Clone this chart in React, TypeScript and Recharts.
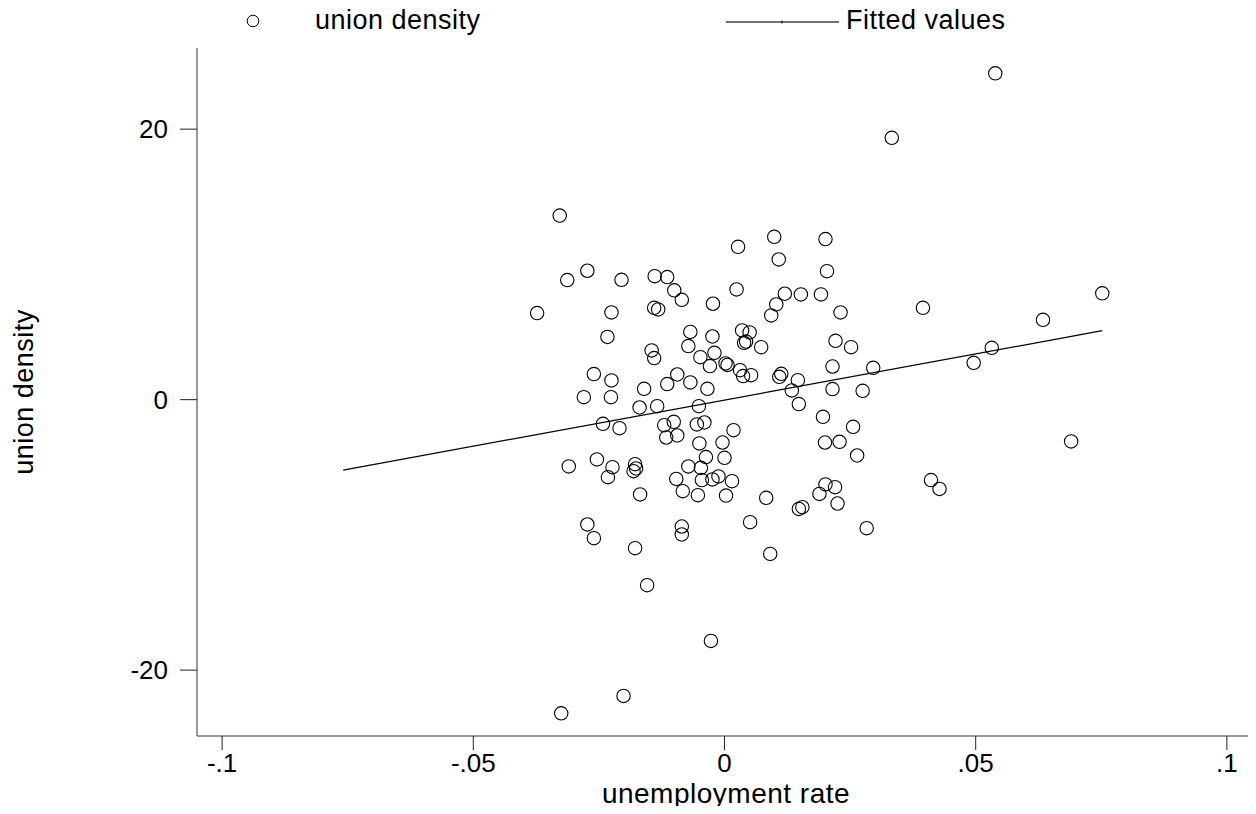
import * as React from "react";
import { ScatterChart, Scatter, XAxis, YAxis } from "recharts";

// unemployment rate (x) and union density (y)
const unemploymentRate = [
    -0.0328, -0.0273, -0.0313, -0.0205, -0.0139, -0.0114, -0.0100, -0.0085, -0.0023, -0.0373,
    -0.0225, -0.0140, -0.0132, -0.0068, -0.0024, -0.0233, -0.0072, -0.0145, -0.0140, -0.0048,
    -0.0020, -0.0029,
    -0.0260, -0.0225, -0.0094, -0.0114, -0.0068, -0.0160, -0.0034, -0.0280, -0.0226,
    -0.0169, -0.0134, -0.0051, -0.0242, -0.0209, -0.0120, -0.0101, -0.0055, -0.0040, -0.0116,
    -0.0094, -0.0050, -0.0004, -0.0310, -0.0254, -0.0223, -0.0232, -0.0178, -0.0176, -0.0181,
    -0.0037, -0.0072, -0.0047, 0.0000, -0.0096, -0.0045, -0.0024, -0.0012, -0.0083, -0.0053,
    0.0003, -0.0168, -0.0273, -0.0260, -0.0085, -0.0085, -0.0178,
    0.0099, 0.0201, 0.0027, 0.0108, 0.0204, 0.0024, 0.0120, 0.0152, 0.0192, 0.0103,
    0.0093, 0.0231, 0.0035, 0.0050, 0.0039, 0.0043, 0.0073, 0.0221, 0.0252, 0.0002,
    0.0006, 0.0031, 0.0037, 0.0053, 0.0109, 0.0113, 0.0146, 0.0215, 0.0296, 0.0134,
    0.0215, 0.0275, 0.0148, 0.0196, 0.0256, 0.0018, 0.0200, 0.0229, 0.0264, 0.0015,
    0.0083, 0.0201, 0.0220, 0.0189, 0.0225, 0.0148, 0.0155, 0.0051, 0.0283, 0.0091,
    0.0395, 0.0634, 0.0752, -0.0154, -0.0027, -0.0201, -0.0325, 0.0539, 0.0333, 0.0411,
    0.0428, 0.0532, 0.0496, 0.0690,
];

const unionDensity = [
    13.61, 9.53, 8.84, 8.86, 9.13, 9.06, 8.08, 7.38, 7.09, 6.40,
    6.45, 6.79, 6.67, 5.01, 4.67, 4.64, 3.96, 3.64, 3.07, 3.14,
    3.46, 2.48,
    1.89, 1.42, 1.86, 1.15, 1.27, 0.80, 0.80, 0.18, 0.18,
    -0.58, -0.48, -0.48, -1.79, -2.11, -1.89, -1.64, -1.83, -1.69, -2.80,
    -2.65, -3.24, -3.17, -4.94, -4.42, -4.99, -5.73, -4.77, -5.09, -5.29,
    -4.25, -4.94, -5.04, -4.30, -5.86, -5.95, -5.90, -5.68, -6.77, -7.06,
    -7.09, -7.01, -9.23, -10.24, -9.38, -9.97, -10.98,
    12.04, 11.87, 11.30, 10.37, 9.50, 8.15, 7.83, 7.78, 7.78, 7.04,
    6.23, 6.45, 5.12, 4.97, 4.20, 4.29, 3.88, 4.35, 3.88, 2.68,
    2.57, 2.18, 1.74, 1.81, 1.69, 1.91, 1.44, 2.45, 2.35, 0.68,
    0.78, 0.65, -0.33, -1.27, -2.01, -2.26, -3.17, -3.12, -4.13, -6.03,
    -7.26, -6.27, -6.47, -6.97, -7.68, -8.08, -7.95, -9.06, -9.50, -11.41,
    6.79, 5.90, 7.86, -13.72, -17.84, -21.91, -23.19, 24.13, 19.36, -5.95,
    -6.60, 3.83, 2.72, -3.09,
];

// fitted values line, end points
const fittedX = [-0.0759, 0.0752];
const fittedY = [-5.21, 5.10];

const xTicks = [-0.1, -0.05, 0, 0.05, 0.1];
const yTicks = [-20, 0, 20];

const FONT = '"Liberation Sans", Arial, Helvetica, sans-serif';

const points = unemploymentRate.map((x, i) => ({ x, y: unionDensity[i] }));
const fitted = fittedX.map((x, i) => ({ x, y: fittedY[i] }));

const stataNum = (v: number) => {
    if (v === 0) return "0";
    const s = String(Math.abs(v)).replace(/^0/, "");
    return (v < 0 ? "-" : "") + s;
};

const Hollow = (p: any) => (
    <circle cx={p.cx} cy={p.cy} r={6.7} fill="none" stroke="#000" strokeWidth={1.1} />
);

const Nothing = () => <g />;

const textStyle: React.CSSProperties = {
    position: "absolute",
    fontSize: 27,
    lineHeight: "30px",
    letterSpacing: 0.5,
    whiteSpace: "nowrap",
};

export default function App() {
    return (
        <div style={{ position: "relative", width: 1248, height: 798, fontFamily: FONT, color: "#000" }}>
            <ScatterChart
                width={1248}
                height={798}
                margin={{ top: 40, right: 4, bottom: 20, left: 129 }}>
                <XAxis
                    type="number"
                    dataKey="x"
                    domain={[-0.105, 0.105]}
                    ticks={xTicks}
                    allowDataOverflow
                    tickFormatter={stataNum}
                    height={50}
                    tickSize={14}
                    tickMargin={4}
                    axisLine={{ stroke: "#777", strokeWidth: 1.5 }}
                    tickLine={{ stroke: "#222" }}
                    tick={{ fill: "#000", fontSize: 26, fontFamily: FONT }} />
                <YAxis
                    type="number"
                    dataKey="y"
                    domain={[-24.87, 26]}
                    ticks={yTicks}
                    allowDataOverflow
                    width={60}
                    tickSize={17}
                    tickMargin={12}
                    axisLine={{ stroke: "#777", strokeWidth: 1.5 }}
                    tickLine={{ stroke: "#222" }}
                    tick={{ fill: "#000", fontSize: 26, fontFamily: FONT }} />
                <Scatter
                    name="union density"
                    data={points}
                    shape={Hollow}
                    isAnimationActive={false} />
                <Scatter
                    name="Fitted values"
                    data={fitted}
                    line={{ stroke: "#000", strokeWidth: 1.2 }}
                    shape={Nothing}
                    isAnimationActive={false} />
            </ScatterChart>

            {/* legend */}
            <svg style={{ position: "absolute", left: 237, top: 5 }} width={16} height={16}>
                <circle cx={8} cy={8} r={5.8} fill="none" stroke="#000" strokeWidth={1} />
            </svg>
            <div style={{ ...textStyle, left: 307, top: -3 }}>union density</div>
            <svg style={{ position: "absolute", left: 718, top: 12 }} width={113} height={4}>
                <line x1={0} y1={2} x2={113} y2={2} stroke="#444" strokeWidth={1.5} />
                <line x1={56} y1={0.5} x2={56} y2={3.5} stroke="#000" strokeWidth={1} />
            </svg>
            <div style={{ ...textStyle, left: 838, top: -3 }}>Fitted values</div>

            {/* axis titles */}
            <div style={{ ...textStyle, fontSize: 28, left: 418, width: 600, top: 771, textAlign: "center" }}>
                unemployment rate
            </div>
            <div style={{ position: "absolute", left: 16, top: 384, width: 0, height: 0 }}>
                <div style={{
                    ...textStyle, left: -150, top: -15, width: 300, textAlign: "center",
                    transform: "rotate(-90deg)",
                }}>
                    union density
                </div>
            </div>
        </div>
    );
}
